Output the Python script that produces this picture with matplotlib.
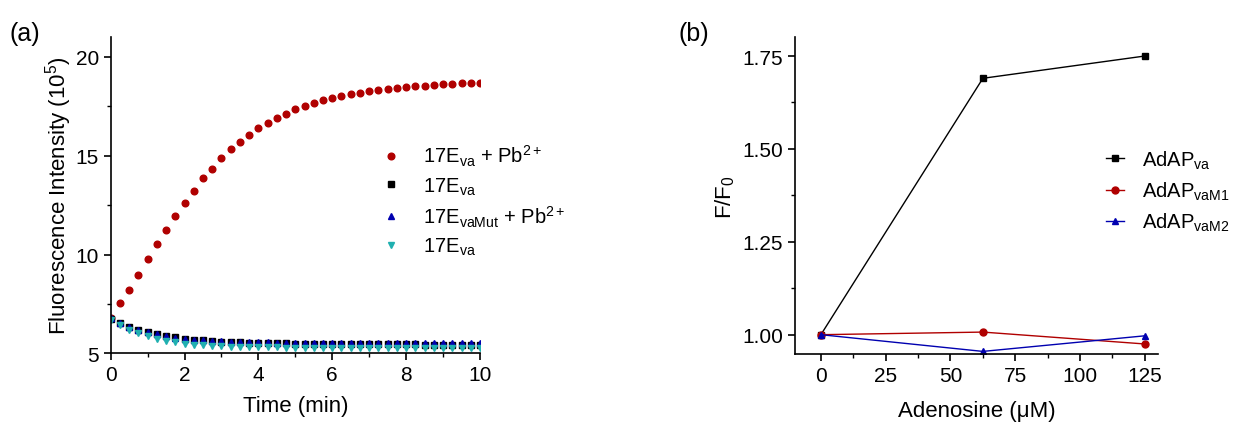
import matplotlib
matplotlib.use("Agg")
import matplotlib.pyplot as plt
from matplotlib.ticker import MultipleLocator, FormatStrFormatter

plt.rcParams["font.family"] = ["Liberation Sans", "DejaVu Sans"]
plt.rcParams["mathtext.fontset"] = "custom"
plt.rcParams["mathtext.rm"] = "Liberation Sans"
plt.rcParams["mathtext.it"] = "Liberation Sans:italic"

# ---- panel (a): kinetics ----
time_min = [i * 0.25 for i in range(41)]
eva_pb = [6.80, 7.53, 8.23, 8.96, 9.75, 10.51, 11.23, 11.93, 12.62, 13.22,
          13.85, 14.35, 14.86, 15.32, 15.70, 16.05, 16.39, 16.65, 16.91, 17.13,
          17.34, 17.52, 17.66, 17.81, 17.91, 18.00, 18.10, 18.16, 18.26, 18.33,
          18.38, 18.40, 18.47, 18.52, 18.53, 18.58, 18.60, 18.60, 18.67, 18.67,
          18.67]
eva = [6.75, 6.55, 6.35, 6.20, 6.08, 5.97, 5.88, 5.81, 5.75, 5.70,
       5.66, 5.62, 5.60, 5.58, 5.56, 5.55, 5.54, 5.53, 5.52, 5.51,
       5.50, 5.50, 5.49, 5.49, 5.48, 5.48, 5.48, 5.47, 5.47, 5.47,
       5.46, 5.46, 5.46, 5.46, 5.45, 5.45, 5.45, 5.45, 5.45, 5.45,
       5.45]
evamut_pb = [6.80, 6.55, 6.35, 6.20, 6.07, 5.96, 5.87, 5.80, 5.74, 5.70,
             5.66, 5.63, 5.61, 5.59, 5.58, 5.57, 5.56, 5.56, 5.55, 5.55,
             5.54, 5.54, 5.54, 5.53, 5.53, 5.53, 5.53, 5.53, 5.52, 5.52,
             5.52, 5.52, 5.52, 5.52, 5.52, 5.51, 5.51, 5.51, 5.51, 5.51,
             5.51]
eva_2 = [6.70, 6.45, 6.20, 6.02, 5.88, 5.75, 5.65, 5.57, 5.50, 5.45,
         5.41, 5.38, 5.36, 5.34, 5.33, 5.32, 5.31, 5.30, 5.30, 5.29,
         5.29, 5.28, 5.28, 5.28, 5.27, 5.27, 5.27, 5.27, 5.26, 5.26,
         5.26, 5.26, 5.26, 5.26, 5.25, 5.25, 5.25, 5.25, 5.25, 5.25,
         5.25]

# ---- panel (b): adenosine response ----
adenosine_um = [0, 62.5, 125]
adap_va = [1.00, 1.69, 1.75]
adap_vam1 = [1.00, 1.007, 0.975]
adap_vam2 = [1.00, 0.955, 0.997]

RED = "#b00000"
BLUE = "#0000b0"
CYAN = "#20b0b0"

fig = plt.figure(figsize=(12.49, 4.27), dpi=100)
ax1 = fig.add_axes([0.0886, 0.170, 0.2957, 0.741])
ax2 = fig.add_axes([0.6365, 0.1686, 0.2905, 0.7414])


def style_axes(ax):
    for s in ("top", "right"):
        ax.spines[s].set_visible(False)
    for s in ("left", "bottom"):
        ax.spines[s].set_linewidth(1.2)
    ax.tick_params(which="major", direction="out", length=5, width=1.2,
                   labelsize=15)
    ax.tick_params(which="minor", direction="out", length=3, width=1.0)


ax1.plot(time_min, eva_pb, "o", color=RED, ms=4.8, ls="none",
         label=r"17E$_{\mathrm{va}}$ + Pb$^{2+}$")
ax1.plot(time_min, eva, "s", color="black", ms=4.2, ls="none",
         label=r"17E$_{\mathrm{va}}$")
ax1.plot(time_min, evamut_pb, "^", color=BLUE, ms=4.8, ls="none",
         label=r"17E$_{\mathrm{vaMut}}$ + Pb$^{2+}$")
ax1.plot(time_min, eva_2, "v", color=CYAN, ms=4.8, ls="none",
         label=r"17E$_{\mathrm{va}}$")
ax1.set_xlim(0, 10)
ax1.set_ylim(5, 21)
ax1.xaxis.set_major_locator(MultipleLocator(2))
ax1.xaxis.set_minor_locator(MultipleLocator(1))
ax1.yaxis.set_major_locator(MultipleLocator(5))
ax1.yaxis.set_minor_locator(MultipleLocator(2.5))
style_axes(ax1)
ax1.set_xlabel("Time (min)", fontsize=16, labelpad=8)
ax1.set_ylabel(r"Fluorescence Intensity (10$^5$)", fontsize=16, labelpad=1)
ax1.legend(loc="upper left", bbox_to_anchor=(0.71, 0.69), frameon=False,
           fontsize=14.5, handlelength=1.0, handletextpad=1.1,
           labelspacing=0.35, borderaxespad=0)

ax2.plot(adenosine_um, adap_va, "-s", color="black", ms=5, lw=1.0,
         label=r"AdAP$_{\mathrm{va}}$")
ax2.plot(adenosine_um, adap_vam1, "-o", color=RED, ms=5, lw=1.0,
         label=r"AdAP$_{\mathrm{vaM1}}$")
ax2.plot(adenosine_um, adap_vam2, "-^", color=BLUE, ms=5, lw=1.0,
         label=r"AdAP$_{\mathrm{vaM2}}$")
ax2.set_xlim(-10, 130)
ax2.set_ylim(0.948, 1.80)
ax2.xaxis.set_major_locator(MultipleLocator(25))
ax2.xaxis.set_minor_locator(MultipleLocator(12.5))
ax2.yaxis.set_major_locator(MultipleLocator(0.25))
ax2.yaxis.set_minor_locator(MultipleLocator(0.125))
ax2.yaxis.set_major_formatter(FormatStrFormatter("%.2f"))
style_axes(ax2)
ax2.set_xlabel("Adenosine (\u03bcM)", fontsize=16, labelpad=11)
ax2.set_ylabel(r"F/F$_0$", fontsize=16)
ax2.legend(loc="upper left", bbox_to_anchor=(0.835, 0.675), frameon=False,
           fontsize=14.5, handlelength=0.9, handletextpad=0.9,
           labelspacing=0.45, borderaxespad=0)

fig.text(0.008, 0.905, "(a)", fontsize=18)
fig.text(0.543, 0.905, "(b)", fontsize=18)

fig.savefig("out.png", dpi=100)
